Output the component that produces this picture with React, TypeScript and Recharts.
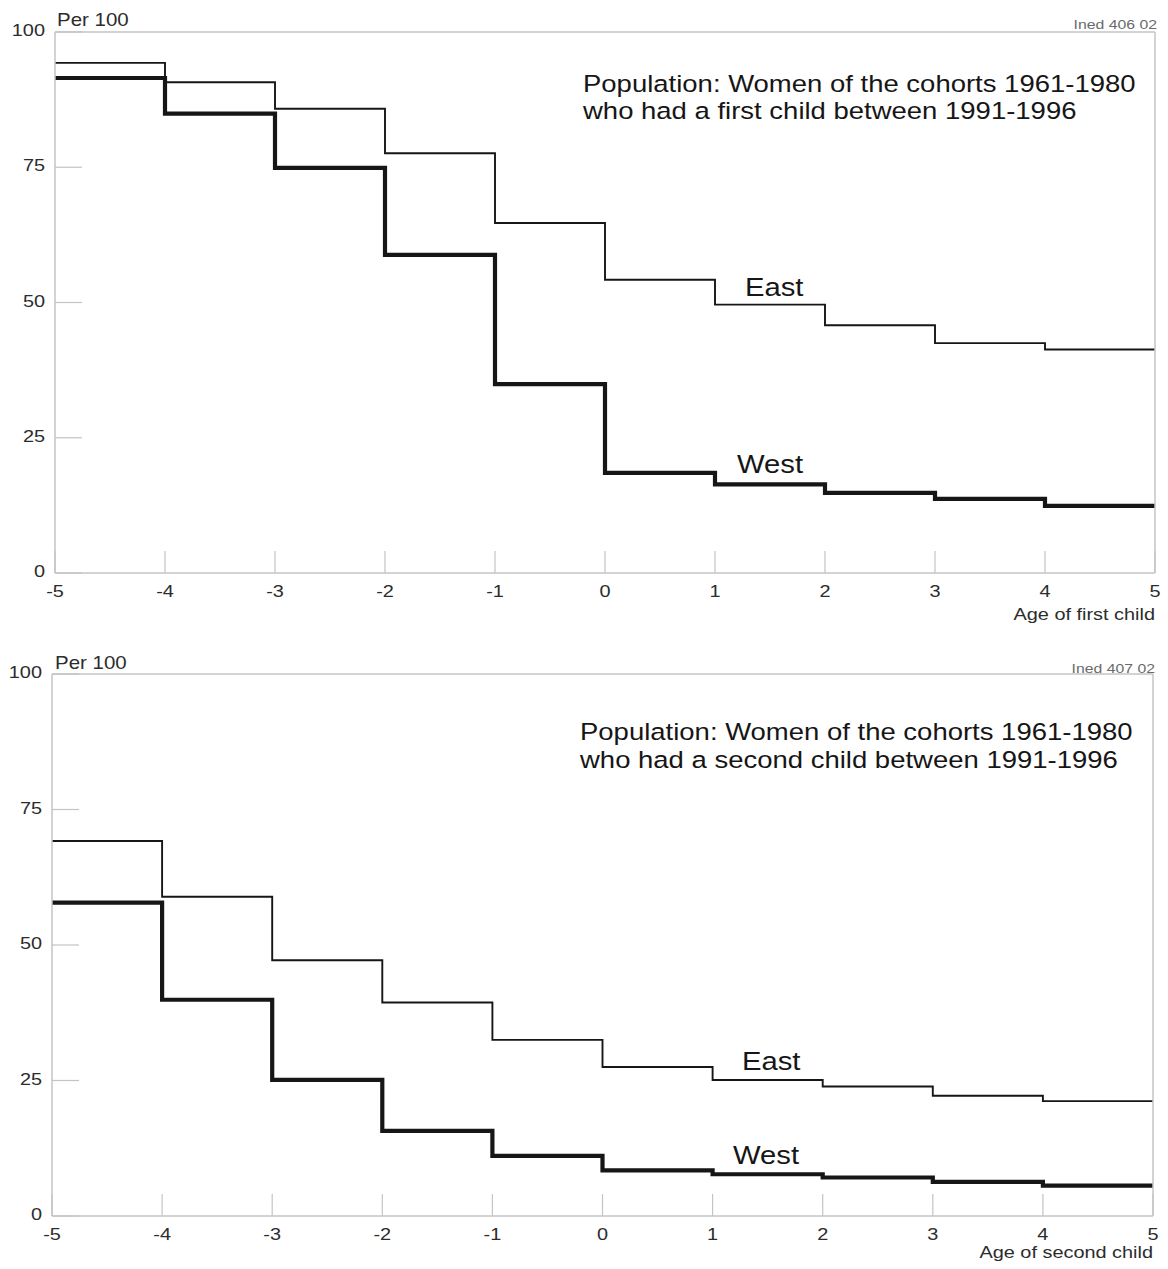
import React from "react";
import { LineChart, Line, XAxis, YAxis } from "recharts";

// ages around the birth of the child (years)
const ages = [-5, -4, -3, -2, -1, 0, 1, 2, 3, 4, 5];
const yTicks = [0, 25, 50, 75, 100];

// women still in the first union, per 100
const firstEast = [94.3, 90.7, 85.8, 77.6, 64.7, 54.2, 49.6, 45.8, 42.5, 41.3, 41.3];
const firstWest = [91.5, 84.9, 74.9, 58.8, 34.9, 18.5, 16.4, 14.8, 13.7, 12.4, 12.4];
const secondEast = [69.2, 58.9, 47.2, 39.4, 32.5, 27.5, 25.1, 23.9, 22.2, 21.2, 21.2];
const secondWest = [57.8, 39.9, 25.1, 15.7, 11.1, 8.4, 7.7, 7.1, 6.3, 5.6, 5.6];

const FONT = '"Liberation Sans", Arial, Helvetica, sans-serif';
const STRETCH = 1.17; // the scan is a bit wider than a plain Arial
const INK = "#161616";
const LABEL = "#2c2c2c";
const FRAME = "#c4c4c4";

function Txt({ x, y, size, anchor = "start", fill = INK, children }: any) {
  return (
    <text
      transform={`translate(${x},${y}) scale(${STRETCH},1)`}
      fontSize={size}
      fontFamily={FONT}
      textAnchor={anchor}
      fill={fill}
    >
      {children}
    </text>
  );
}

const XTick = (props: any) => (
  <Txt x={props.x} y={props.y + 24} size={17} anchor="middle" fill={LABEL}>
    {String(props.payload.value)}
  </Txt>
);

const YTick = (props: any) => (
  <Txt x={props.x - 10} y={props.y + 4} size={17} anchor="end" fill={LABEL}>
    {String(props.payload.value)}
  </Txt>
);

function Panel({ top, height, margin, east, west }: any) {
  const data = ages.map((age, i) => ({ age, east: east[i], west: west[i] }));
  const axisLine = { stroke: FRAME, strokeWidth: 1.5 };
  const tickLine = { stroke: FRAME, strokeWidth: 1.2 };
  return (
    <div style={{ position: "absolute", left: 0, top }}>
      <LineChart width={1168} height={height} data={data} margin={margin}>
        <XAxis
          xAxisId="b"
          dataKey="age"
          type="number"
          domain={[-5, 5]}
          ticks={ages}
          interval={0}
          height={40}
          tickSize={-22}
          tickMargin={22}
          axisLine={axisLine}
          tickLine={tickLine}
          tick={XTick}
        />
        <XAxis
          xAxisId="t"
          orientation="top"
          type="number"
          domain={[-5, 5]}
          ticks={ages}
          interval={0}
          height={1}
          tickSize={-22}
          axisLine={axisLine}
          tickLine={tickLine}
          tick={false}
        />
        <YAxis
          yAxisId="l"
          type="number"
          domain={[0, 100]}
          ticks={yTicks}
          interval={0}
          width={45}
          tickSize={-27}
          tickMargin={27}
          axisLine={axisLine}
          tickLine={tickLine}
          tick={YTick}
        />
        <YAxis
          yAxisId="r"
          orientation="right"
          type="number"
          domain={[0, 100]}
          ticks={yTicks}
          interval={0}
          width={1}
          tickSize={-27}
          axisLine={axisLine}
          tickLine={tickLine}
          tick={false}
        />
        <Line
          xAxisId="b"
          yAxisId="l"
          type="stepAfter"
          dataKey="east"
          stroke={INK}
          strokeWidth={1.9}
          dot={false}
          isAnimationActive={false}
        />
        <Line
          xAxisId="b"
          yAxisId="l"
          type="stepAfter"
          dataKey="west"
          stroke={INK}
          strokeWidth={4.2}
          dot={false}
          isAnimationActive={false}
        />
      </LineChart>
    </div>
  );
}

export default function App() {
  return (
    <div style={{ position: "absolute", left: 0, top: 0, width: 1168, height: 1269, background: "#fff" }}>
      <Panel
        top={0}
        height={640}
        margin={{ top: 31, right: 12, bottom: 27, left: 10 }}
        east={firstEast}
        west={firstWest}
      />
      <Panel
        top={640}
        height={629}
        margin={{ top: 33, right: 14, bottom: 13, left: 7 }}
        east={secondEast}
        west={secondWest}
      />
      <svg
        width={1168}
        height={1269}
        style={{ position: "absolute", left: 0, top: 0, pointerEvents: "none" }}
      >
        <Txt x={57} y={26} size={17.5} fill={LABEL}>Per 100</Txt>
        <Txt x={1157} y={29} size={13.5} anchor="end" fill="#6a6a6a">Ined 406 02</Txt>
        <Txt x={583} y={92} size={23.5}>Population: Women of the cohorts 1961-1980</Txt>
        <Txt x={583} y={119} size={23.5}>who had a first child between 1991-1996</Txt>
        <Txt x={745} y={296} size={25}>East</Txt>
        <Txt x={737} y={473} size={25}>West</Txt>
        <Txt x={1155} y={620} size={17} anchor="end" fill={LABEL}>Age of first child</Txt>

        <Txt x={55} y={669} size={17.5} fill={LABEL}>Per 100</Txt>
        <Txt x={1155} y={673} size={13.5} anchor="end" fill="#6a6a6a">Ined 407 02</Txt>
        <Txt x={580} y={740} size={23.5}>Population: Women of the cohorts 1961-1980</Txt>
        <Txt x={580} y={768} size={23.5}>who had a second child between 1991-1996</Txt>
        <Txt x={742} y={1070} size={25}>East</Txt>
        <Txt x={733} y={1164} size={25}>West</Txt>
        <Txt x={1153} y={1258} size={17} anchor="end" fill={LABEL}>Age of second child</Txt>
      </svg>
    </div>
  );
}
